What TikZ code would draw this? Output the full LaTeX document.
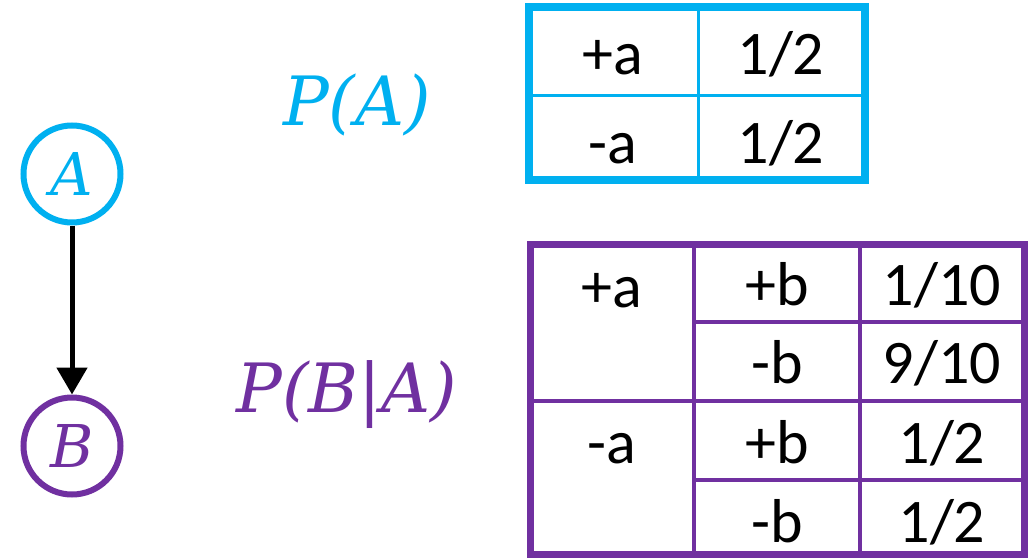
\documentclass[tikz,border=0pt]{standalone}
\usepackage{fontspec}
\setmainfont{Carlito}
\newfontfamily\varfont{DejaVu Serif}
\usepackage{xcolor}
\usetikzlibrary{arrows.meta,positioning}
\definecolor{acyan}{HTML}{00B0F0}
\definecolor{bpurple}{HTML}{7030A0}
\tikzset{
  var/.style={circle,draw,line width=6pt,minimum size=97pt,inner sep=0pt,font=\varfont\itshape\fontsize{59}{66}\selectfont},
  cell/.style={anchor=base,font=\fontsize{62}{70}\selectfont},
  prob/.style={anchor=base,font=\varfont\itshape\fontsize{68}{76}\selectfont}
}

\begin{document}
\begin{tikzpicture}[x=1pt,y=-1pt]
\useasboundingbox (0,0) rectangle (1032,559);
% the network
\node[var,acyan] (A) at (72,174) {A};
\node[var,bpurple] (B) at (72,446) {B};
\draw[line width=5pt,-{Triangle[width=30pt,length=27pt]}] (A) -- (B);
\node[prob,acyan] (PA) at (357,125) {P(A)};
\node[prob,bpurple] (PBA) at (347,412) {P(B|A)};
% table for P(A)
\coordinate (T1) at (529,7);
\coordinate (T2) at (865,180);
\draw[acyan,line width=3pt] (698,7) -- (698,180) (529,96) -- (865,96);
\draw[acyan,line width=8pt] (T1) rectangle (T2);
\node[cell] (pa) at (613,75) {+a};
\node[cell] (ma) at (613,163) {-a};
\node[cell] (vpa) at (781,75) {1/2};
\node[cell] (vma) at (781,163) {1/2};
% table for P(B|A)
\coordinate (S1) at (530,244);
\coordinate (S2) at (1024,554);
\draw[bpurple,line width=4pt] (694,244) -- (694,554) (860,244) -- (860,554)
  (530,401) -- (1024,401) (694,322) -- (1024,322) (694,480) -- (1024,480);
\draw[bpurple,line width=7pt] (S1) rectangle (S2);
\node[cell] (cpa) at (612,307) {+a};
\node[cell] (cma) at (612,463) {-a};
\node[cell] (pb1) at (777,305) {+b};
\node[cell] (mb1) at (777,383) {-b};
\node[cell] (pb2) at (777,463) {+b};
\node[cell] (mb2) at (777,542) {-b};
\node[cell] (v1) at (942,305) {1/10};
\node[cell] (v2) at (942,383) {9/10};
\node[cell] (v3) at (942,463) {1/2};
\node[cell] (v4) at (942,542) {1/2};
\end{tikzpicture}
\end{document}
